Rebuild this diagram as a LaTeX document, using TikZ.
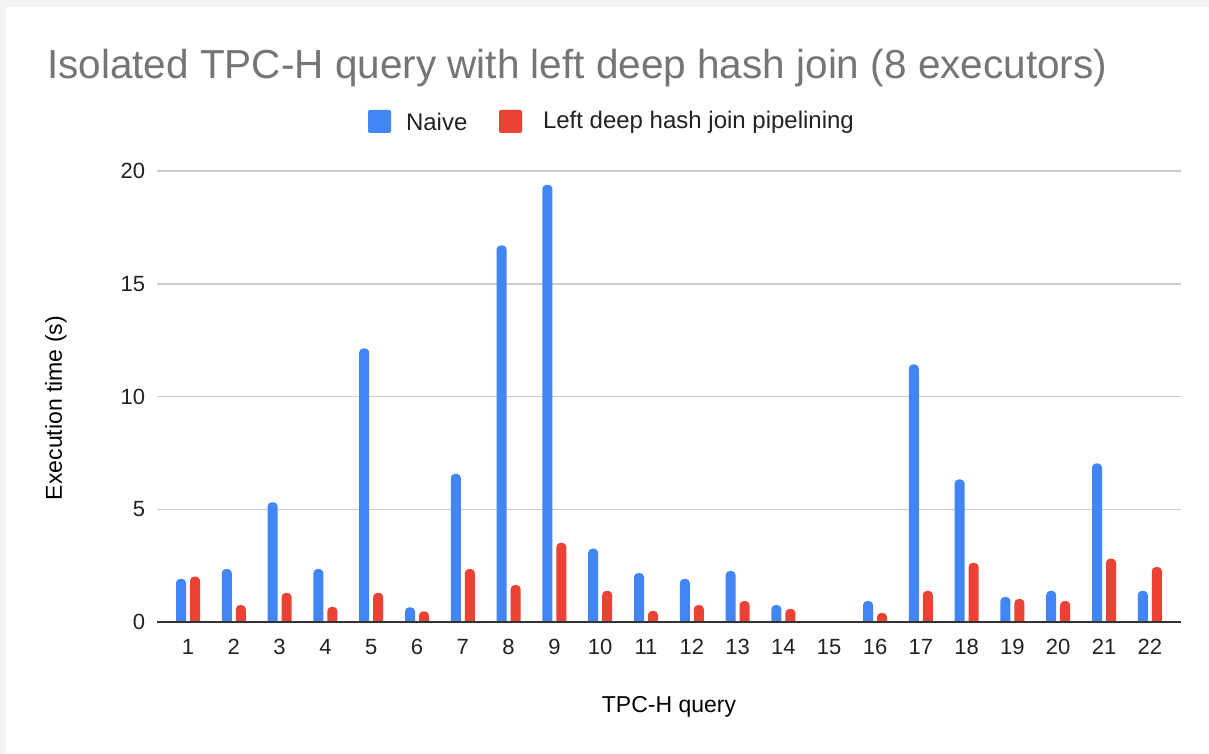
\documentclass[tikz,border=0pt]{standalone}
\usepackage{fontspec}
\setmainfont{Liberation Sans}
\definecolor{naive}{HTML}{4285F4}
\definecolor{pipe}{HTML}{EA4335}
\definecolor{gridc}{HTML}{CCCCCC}
\definecolor{titlec}{HTML}{757575}
\definecolor{framec}{HTML}{F3F3F3}
\definecolor{axisc}{HTML}{333333}
\definecolor{labelc}{HTML}{222222}
\begin{document}
\begin{tikzpicture}[x=1pt,y=-1pt,
  txt/.style={inner sep=0pt, outer sep=0pt},
  ticklabel/.style={txt, font=\fontsize{22}{24}\selectfont, text=labelc},
  axistitle/.style={txt, font=\fontsize{23}{26}\selectfont, text=black},
  legendtext/.style={txt, font=\fontsize{24}{27}\selectfont, text=labelc, anchor=west},
  gridline/.style={draw=gridc, line width=1.5pt},
  legendkey/.style={rounded corners=2pt}]
% page and frame
\useasboundingbox (0,0) rectangle (1209,754);
\fill[framec] (0,0) rectangle (1209,754);
\fill[white] (6,7) rectangle (1209,754);

% title
\node[txt, anchor=base west, text=titlec, font=\fontsize{40.5}{44}\selectfont] (title) at (47,79)
  {Isolated TPC-H query with left deep hash join (8 executors)};

% legend
\fill[naive, legendkey] (368,110) rectangle (391,133);
\node[legendtext] (lgnaive) at (406,122) {Naive};
\fill[pipe, legendkey] (499,110) rectangle (522,133);
\node[legendtext] (lgpipe) at (543,122) {Left deep hash join pipelining};

% horizontal grid and value labels
\foreach \v in {5,10,15,20} {
  \draw[gridline] (157,{622-\v*22.55}) -- (1181,{622-\v*22.55});
}
\foreach \v in {0,5,10,15,20} {
  \node[ticklabel, anchor=east] (ytick\v) at (145,{622-\v*22.55}) {\v};
}

% bars: query / naive / pipelined
\foreach \q/\a/\b in {
  1/1.91/2.01, 2/2.35/0.75, 3/5.31/1.29, 4/2.35/0.67, 5/12.13/1.29,
  6/0.65/0.47, 7/6.57/2.35, 8/16.70/1.64, 9/19.39/3.51, 10/3.25/1.38,
  11/2.17/0.49, 12/1.91/0.75, 13/2.26/0.93, 14/0.75/0.58, 15/0/0,
  16/0.93/0.40, 17/11.42/1.38, 18/6.32/2.62, 19/1.11/1.02, 20/1.38/0.93,
  21/7.03/2.81, 22/1.38/2.44} {
  \pgfmathsetmacro{\cx}{188+(\q-1)*45.8}
  \pgfmathsetmacro{\ta}{622-\a*22.55}
  \pgfmathsetmacro{\tb}{622-\b*22.55}
  \ifdim\a pt>0pt
    \fill[naive] (\cx-12,622) [rounded corners=4pt] -- (\cx-12,\ta) -- (\cx-2,\ta) [sharp corners] -- (\cx-2,622) -- cycle;
  \fi
  \ifdim\b pt>0pt
    \fill[pipe] (\cx+2,622) [rounded corners=4pt] -- (\cx+2,\tb) -- (\cx+12,\tb) [sharp corners] -- (\cx+12,622) -- cycle;
  \fi
  \node[ticklabel, anchor=base] (xtick\q) at (\cx,654) {\q};
}

% baseline
\draw[axisc, line width=2pt] (157,622) -- (1181,622);

% axis titles
\node[axistitle, rotate=90] (ytitle) at (56,408) {Execution time (s)};
\node[axistitle] (xtitle) at (669,707) {TPC-H query};
\end{tikzpicture}
\end{document}
